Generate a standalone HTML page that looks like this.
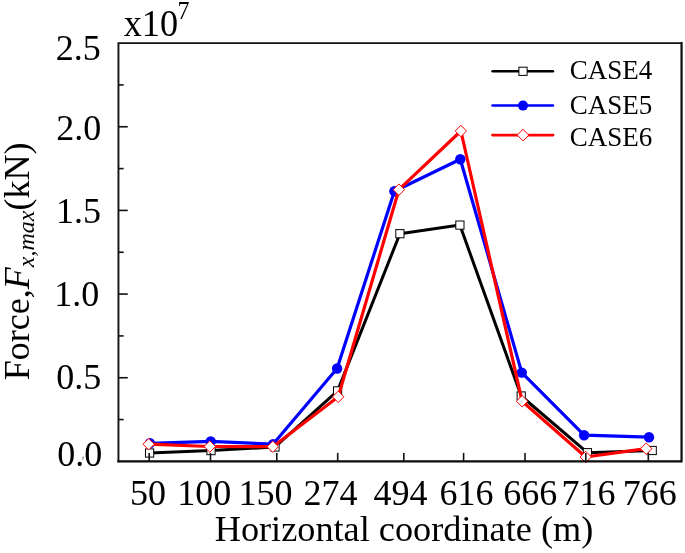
<!DOCTYPE html>
<html><head><meta charset="utf-8"><title>Chart</title>
<style>
html,body{margin:0;padding:0;background:#fff;}
body{width:685px;height:553px;overflow:hidden;font-family:"Liberation Serif",serif;}
svg{display:block;will-change:transform;}
text{font-family:"Liberation Serif",serif;fill:#000;}
</style></head><body>
<svg width="685" height="553" viewBox="0 0 685 553">
<rect width="685" height="553" fill="#fff"/>
<polyline points="149.6,453 211,450.6 275,447 337.6,390.9 399.9,233.7 459.9,225.1 521.2,396.0 587.4,452.7 652.2,450.5" fill="none" stroke="#000" stroke-width="3.0" stroke-linejoin="round" stroke-linecap="round"/>
<rect x="145.50" y="448.90" width="8.2" height="8.2" fill="#fff" stroke="#000" stroke-width="1"/>
<rect x="206.90" y="446.50" width="8.2" height="8.2" fill="#fff" stroke="#000" stroke-width="1"/>
<rect x="270.90" y="442.90" width="8.2" height="8.2" fill="#fff" stroke="#000" stroke-width="1"/>
<rect x="333.50" y="386.80" width="8.2" height="8.2" fill="#fff" stroke="#000" stroke-width="1"/>
<rect x="395.80" y="229.60" width="8.2" height="8.2" fill="#fff" stroke="#000" stroke-width="1"/>
<rect x="455.80" y="221.00" width="8.2" height="8.2" fill="#fff" stroke="#000" stroke-width="1"/>
<rect x="517.10" y="391.90" width="8.2" height="8.2" fill="#fff" stroke="#000" stroke-width="1"/>
<rect x="583.30" y="448.60" width="8.2" height="8.2" fill="#fff" stroke="#000" stroke-width="1"/>
<rect x="648.10" y="446.40" width="8.2" height="8.2" fill="#fff" stroke="#000" stroke-width="1"/>
<polyline points="149.9,443.3 210.7,441.4 273,444.2 337.1,368.5 394.4,191.2 460.3,159.2 521.8,372.6 584.1,435.2 649.0,437.2" fill="none" stroke="#0000ff" stroke-width="3.2" stroke-linejoin="round" stroke-linecap="round"/>
<circle cx="149.9" cy="443.3" r="5.2" fill="#0000ff"/>
<circle cx="210.7" cy="441.4" r="5.2" fill="#0000ff"/>
<circle cx="273" cy="444.2" r="5.2" fill="#0000ff"/>
<circle cx="337.1" cy="368.5" r="5.2" fill="#0000ff"/>
<circle cx="394.4" cy="191.2" r="5.2" fill="#0000ff"/>
<circle cx="460.3" cy="159.2" r="5.2" fill="#0000ff"/>
<circle cx="521.8" cy="372.6" r="5.2" fill="#0000ff"/>
<circle cx="584.1" cy="435.2" r="5.2" fill="#0000ff"/>
<circle cx="649.0" cy="437.2" r="5.2" fill="#0000ff"/>
<polyline points="148.7,444.2 209.8,446.5 272.8,446.7 338.2,396.8 398.9,189.7 460.9,131.0 522.1,401.2 585.7,457 646.2,448.7" fill="none" stroke="#ff0000" stroke-width="3.2" stroke-linejoin="round" stroke-linecap="round"/>
<polygon points="143.0,444.2 148.7,438.5 154.39999999999998,444.2 148.7,449.9" fill="#fff" stroke="#ff0000" stroke-width="1"/>
<polygon points="204.10000000000002,446.5 209.8,440.8 215.5,446.5 209.8,452.2" fill="#fff" stroke="#ff0000" stroke-width="1"/>
<polygon points="267.1,446.7 272.8,441.0 278.5,446.7 272.8,452.4" fill="#fff" stroke="#ff0000" stroke-width="1"/>
<polygon points="332.5,396.8 338.2,391.1 343.9,396.8 338.2,402.5" fill="#fff" stroke="#ff0000" stroke-width="1"/>
<polygon points="393.2,189.7 398.9,184.0 404.59999999999997,189.7 398.9,195.39999999999998" fill="#fff" stroke="#ff0000" stroke-width="1"/>
<polygon points="455.2,131.0 460.9,125.3 466.59999999999997,131.0 460.9,136.7" fill="#fff" stroke="#ff0000" stroke-width="1"/>
<polygon points="516.4,401.2 522.1,395.5 527.8000000000001,401.2 522.1,406.9" fill="#fff" stroke="#ff0000" stroke-width="1"/>
<polygon points="580.0,457 585.7,451.3 591.4000000000001,457 585.7,462.7" fill="#fff" stroke="#ff0000" stroke-width="1"/>
<polygon points="640.5,448.7 646.2,443.0 651.9000000000001,448.7 646.2,454.4" fill="#fff" stroke="#ff0000" stroke-width="1"/>
<path d="M118.45,461.4 L118.45,43.1 L681.15,43.1" fill="none" stroke="#111" stroke-width="1.9" stroke-linejoin="miter" stroke-linecap="square"/>
<path d="M118.45,461.4 L681.55,461.4 L681.55,43.1" fill="none" stroke="#0a0a0a" stroke-width="2.2" stroke-linejoin="miter" stroke-linecap="square"/>
<line x1="118.45" y1="84.93" x2="123.65" y2="84.93" stroke="#111" stroke-width="1.6"/>
<line x1="118.45" y1="126.76" x2="127.75" y2="126.76" stroke="#111" stroke-width="1.6"/>
<line x1="118.45" y1="168.59" x2="123.65" y2="168.59" stroke="#111" stroke-width="1.6"/>
<line x1="118.45" y1="210.42" x2="127.75" y2="210.42" stroke="#111" stroke-width="1.6"/>
<line x1="118.45" y1="252.25" x2="123.65" y2="252.25" stroke="#111" stroke-width="1.6"/>
<line x1="118.45" y1="294.08" x2="127.75" y2="294.08" stroke="#111" stroke-width="1.6"/>
<line x1="118.45" y1="335.91" x2="123.65" y2="335.91" stroke="#111" stroke-width="1.6"/>
<line x1="118.45" y1="377.74" x2="127.75" y2="377.74" stroke="#111" stroke-width="1.6"/>
<line x1="118.45" y1="419.57" x2="123.65" y2="419.57" stroke="#111" stroke-width="1.6"/>
<line x1="149.2" y1="461.4" x2="149.2" y2="452.9" stroke="#111" stroke-width="1.6"/>
<line x1="210.5" y1="461.4" x2="210.5" y2="452.9" stroke="#111" stroke-width="1.6"/>
<line x1="276.8" y1="461.4" x2="276.8" y2="452.9" stroke="#111" stroke-width="1.6"/>
<line x1="337.7" y1="461.4" x2="337.7" y2="452.9" stroke="#111" stroke-width="1.6"/>
<line x1="403.8" y1="461.4" x2="403.8" y2="452.9" stroke="#111" stroke-width="1.6"/>
<line x1="463.6" y1="461.4" x2="463.6" y2="452.9" stroke="#111" stroke-width="1.6"/>
<line x1="525.0" y1="461.4" x2="525.0" y2="452.9" stroke="#111" stroke-width="1.6"/>
<line x1="585.8" y1="461.4" x2="585.8" y2="452.9" stroke="#111" stroke-width="1.6"/>
<line x1="648.3" y1="461.4" x2="648.3" y2="452.9" stroke="#111" stroke-width="1.6"/>
<text x="55.8" y="60.1" font-size="36">2.5</text>
<text x="56.2" y="139.7" font-size="36">2.0</text>
<text x="56.1" y="222.6" font-size="36">1.5</text>
<text x="54.2" y="305.6" font-size="36">1.0</text>
<text x="56.2" y="389.1" font-size="36">0.5</text>
<text x="57.3" y="466.2" font-size="36">0.0</text>
<text x="130.0" y="504.7" font-size="36">50</text>
<text x="177.3" y="504.7" font-size="36">100</text>
<text x="238.6" y="504.7" font-size="36">150</text>
<text x="303.6" y="504.7" font-size="36">274</text>
<text x="373.6" y="504.7" font-size="36">494</text>
<text x="439.6" y="504.7" font-size="36">616</text>
<text x="503.3" y="504.7" font-size="36">666</text>
<text x="561.5" y="504.7" font-size="36">716</text>
<text x="622.7" y="504.7" font-size="36">766</text>
<text x="214.7" y="540.7" font-size="36" textLength="378.6" lengthAdjust="spacingAndGlyphs">Horizontal coordinate (m)</text>
<text x="123.7" y="35.6" font-size="38" textLength="54.4" lengthAdjust="spacingAndGlyphs">x10</text>
<text x="177.5" y="19.0" font-size="24.8" textLength="12" lengthAdjust="spacingAndGlyphs">7</text>
<text transform="translate(29.1,380.2) rotate(-90)" font-size="36">Force,<tspan font-style="italic">F</tspan><tspan font-style="italic" font-size="24" dy="4.7">x,max</tspan><tspan dy="-4.7">(kN)</tspan></text>
<line x1="492.5" y1="71.3" x2="553" y2="71.3" stroke="#000" stroke-width="2.4" stroke-linecap="round"/>
<line x1="492.5" y1="105.6" x2="553" y2="105.6" stroke="#0000ff" stroke-width="2.5" stroke-linecap="round"/>
<line x1="492.5" y1="135.1" x2="553" y2="135.1" stroke="#ff0000" stroke-width="2.9" stroke-linecap="round"/>
<rect x="518.9" y="67.2" width="8.2" height="8.2" fill="#fff" stroke="#000" stroke-width="1"/>
<circle cx="523" cy="105.6" r="5" fill="#0000ff"/>
<polygon points="517.2,135.1 523,129.29999999999998 528.8,135.1 523,140.9" fill="#fff" stroke="#ff0000" stroke-width="1"/>
<text x="569.8" y="79.2" font-size="27">CASE4</text>
<text x="569.8" y="113.6" font-size="27">CASE5</text>
<text x="569.8" y="145.8" font-size="27">CASE6</text>
<line x1="83.3" y1="456.6" x2="82.6" y2="459.6" stroke="#444" stroke-width="0.8"/>
</svg></body></html>
